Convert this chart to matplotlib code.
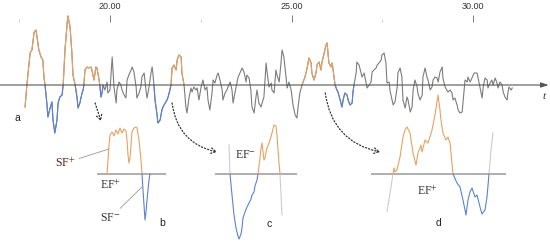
import numpy as np
import matplotlib
matplotlib.use("Agg")
import matplotlib.pyplot as plt

plt.rcParams['mathtext.fontset'] = 'stix'

# main trace (time, amplitude)
t = np.array([17.66, 17.71, 17.80, 17.85, 17.91, 17.96, 17.99, 18.04, 18.10, 18.15, 18.18, 18.21,
              18.26, 18.29, 18.35, 18.40, 18.43, 18.48, 18.54, 18.57, 18.62, 18.68, 18.71,
              18.76, 18.82, 18.84, 18.90, 18.95, 18.98, 19.04,
              19.09, 19.12, 19.17, 19.23, 19.26, 19.28,
              19.31, 19.37, 19.42, 19.48, 19.50, 19.56, 19.61, 19.64, 19.70, 19.72,
              19.75, 19.78, 19.81,
              19.86, 19.92, 19.94, 20.00, 20.06, 20.11, 20.17, 20.19, 20.25, 20.30, 20.33, 20.39,
              20.44, 20.47, 20.52, 20.58, 20.61, 20.66, 20.72, 20.74, 20.80, 20.85, 20.88, 20.94,
              20.99, 21.02, 21.07, 21.13, 21.16, 21.18, 21.21,
              21.24, 21.29, 21.32, 21.38, 21.43, 21.46, 21.52, 21.57, 21.60, 21.65, 21.68,
              21.71, 21.76, 21.82, 21.85, 21.90, 21.96, 21.98, 22.04,
              22.09, 22.12, 22.18, 22.23, 22.26, 22.31, 22.37, 22.40, 22.45, 22.51, 22.56, 22.62,
              22.67, 22.70, 22.75, 22.81, 22.84, 22.89, 22.95, 22.98, 23.03, 23.09, 23.11, 23.17,
              23.22, 23.25, 23.31, 23.36, 23.39, 23.44, 23.50, 23.53, 23.58, 23.64, 23.69, 23.75,
              23.77, 23.83, 23.88, 23.91, 23.97, 24.02, 24.05, 24.10, 24.16, 24.19, 24.24, 24.30,
              24.33, 24.38, 24.44, 24.46, 24.52, 24.57, 24.60, 24.66, 24.71, 24.74, 24.79, 24.85,
              24.88, 24.93, 24.99, 25.04, 25.10, 25.15, 25.18, 25.23, 25.29,
              25.32, 25.37, 25.43, 25.48, 25.54, 25.56, 25.62, 25.68, 25.70, 25.76, 25.81, 25.84,
              25.90, 25.95, 25.98, 26.03, 26.09, 26.12, 26.17, 26.20,
              26.25, 26.28, 26.34, 26.39, 26.42, 26.47, 26.53, 26.56, 26.61, 26.67, 26.69, 26.72,
              26.78, 26.80, 26.86, 26.91, 26.94, 27.00, 27.05, 27.08, 27.14, 27.19, 27.22, 27.27,
              27.33, 27.36, 27.41, 27.47, 27.49, 27.55, 27.60, 27.63, 27.69, 27.71, 27.77, 27.80,
              27.85, 27.91, 27.93, 27.99, 28.04, 28.07, 28.13, 28.18, 28.21, 28.27, 28.32, 28.35,
              28.40, 28.46, 28.48, 28.54, 28.60, 28.62, 28.68, 28.73, 28.76, 28.82, 28.87, 28.90,
              28.95, 29.01, 29.04, 29.09, 29.15, 29.17, 29.23, 29.28, 29.31, 29.37, 29.42, 29.45,
              29.50, 29.56, 29.59, 29.64, 29.70, 29.73, 29.78, 29.84, 29.86, 29.92, 29.97, 30.03,
              30.11, 30.14, 30.19, 30.25, 30.28, 30.33, 30.39, 30.41, 30.47, 30.52, 30.55, 30.61,
              30.66, 30.69, 30.74, 30.80, 30.83, 30.88, 30.94, 30.96, 30.99, 31.05, 31.08])
v = np.array([-2.2, 0.0, 3.2, 3.5, 5.3, 5.5, 4.8, 3.5, 2.8, 2.5, 0.8, 0.0,
              -1.8, -3.2, -2.3, -1.7, -3.5, -4.8, -3.5, -1.8, -1.2, -1.0, 0.0,
              3.5, 6.2, 6.9, 5.8, 3.2, 1.0, 0.0,
              -1.2, -2.3, -1.8, -0.8, -0.5, 0.0,
              1.5, 1.8, 1.7, 1.8, 1.5, 0.5, 1.8, 1.7, 0.5, 0.0,
              -1.2, -0.8, 0.0,
              -0.5, 0.3, -0.8, -0.5, 2.8, -0.2, -1.8, -0.5, 0.3, 0.0, -0.5, -1.0,
              -1.3, 0.5, 1.0, 1.5, 1.8, 1.3, -0.2, -1.3, -0.8, -0.2, 0.8, 1.2,
              -0.5, -1.3, -0.3, 1.2, 1.8, 1.2, 0.0,
              -1.5, -2.8, -3.8, -3.5, -2.5, -2.2, -1.8, -1.5, -1.2, -0.5, 0.0,
              1.7, 2.0, 1.5, 2.5, 3.0, 2.8, 1.2, 0.0,
              -2.2, -2.8, -1.2, -0.3, -0.7, -0.2, -0.5, -0.3, -1.5, -0.2, 0.5, -0.5,
              -0.2, -1.5, -2.5, -0.8, 0.5, 0.2, 1.0, 1.2, 0.5, -0.5, -1.5, -0.8,
              -0.5, -0.2, 0.3, -0.5, -1.8, -0.8, 0.3, 0.8, 1.2, 1.7, 1.3, 0.3,
              1.0, 0.7, -0.5, -2.2, -2.8, -1.2, -0.5, -1.8, -2.2, -1.8, -1.2, 2.2,
              1.2, -0.2, 0.2, -0.5, -0.8, 1.5, 1.0, 0.3, 2.2, 3.5, 2.8, 0.8,
              -0.3, 0.3, -0.5, -2.0, -3.0, -3.3, -2.2, -0.8, 0.0,
              0.3, 0.8, 1.7, 2.7, 2.2, 1.2, 0.5, 1.3, 2.0, 2.3, 1.5, 2.3,
              3.2, 4.0, 4.2, 2.2, 1.8, 2.2, 0.8, 0.0,
              -0.5, -0.7, -1.5, -2.2, -1.5, -0.8, -1.0, -1.5, -2.0, -1.8, -0.8, 0.0,
              1.2, 2.3, 2.0, 1.3, 0.8, 1.2, 0.3, -0.3, 0.0, 0.3, 1.3, 1.5,
              1.7, 2.0, 2.2, 2.5, 3.0, 3.2, 2.2, 0.2, 0.3, -0.5, -1.5, -2.0,
              -1.7, -0.2, 1.2, 1.7, 0.8, -1.5, -2.3, -1.2, -1.5, -2.7, -2.2, -0.5,
              0.5, -0.2, -0.8, -1.5, -1.0, 0.8, 1.7, 0.8, 0.5, -0.5, -0.2, 0.5,
              0.8, 0.7, 0.3, 1.3, 1.8, 0.7, -0.2, -0.5, -0.7, -0.5, -0.8, -1.5,
              -1.3, -2.0, -2.5, -2.8, -2.7, -1.5, 0.5, 0.3, 0.8, 0.3, 0.7, 1.2,
              1.2, 0.7, -0.2, -1.3, -0.2, 0.7, 0.5, -0.3, 0.2, 0.5, 0.0, 0.7,
              0.2, -0.3, 0.3, 0.0, -0.7, -1.2, -1.5, -0.8, -0.2, -0.5, -0.3])

# highlighted stretches of the trace
pos_spans = [(17.66, 18.21), (18.71, 19.04), (19.28, 19.72), (21.68, 22.04), (25.29, 26.20)]
neg_spans = [(18.21, 18.71), (19.04, 19.28), (19.72, 19.81), (21.21, 21.68), (26.20, 26.72)]

tick_major = [20, 25, 30]
tick_minor = [17.5, 22.5, 27.5]
tick_labels = ['20.00', '25.00', '30.00']

# zoomed pieces (local x, amplitude)
b_pos_x = [1.0, 1.1, 1.2, 1.3, 1.5, 1.7, 1.9, 2.1, 2.3, 2.5, 2.7, 2.9, 3.0, 3.1, 3.2, 3.3,
           3.4, 3.5, 3.7, 3.9, 4.0, 4.2, 4.4, 4.5]
b_pos_v = [0.0, 1.4, 2.9, 3.9, 4.2, 3.8, 4.4, 4.0, 4.6, 4.1, 4.5, 4.3, 3.4, 1.9, 1.1, 1.6,
           2.9, 4.2, 4.6, 4.7, 4.6, 3.4, 1.4, 0.0]
b_neg_x = [4.5, 4.6, 4.7, 4.8, 4.9, 5.0, 5.1, 5.2, 5.3]
b_neg_v = [0.0, -1.6, -3.1, -4.6, -3.8, -2.6, -1.6, -0.6, 0.0]
b_width = 6.9

c_lead_x = [1.4, 1.5]
c_lead_v = [2.9, 0.0]
c_neg_x = [1.5, 1.7, 1.9, 2.1, 2.3, 2.4, 2.6, 2.7, 2.8, 3.0, 3.2, 3.4, 3.6, 3.7, 3.9, 4.0, 4.2, 4.3]
c_neg_v = [0.0, -2.1, -4.1, -5.4, -6.2, -6.5, -6.0, -5.4, -4.4, -3.8, -3.3, -2.9, -2.5, -2.1,
           -1.8, -1.2, -0.6, 0.0]
c_pos_x = [4.3, 4.5, 4.6, 4.7, 4.8, 4.9, 5.0, 5.1, 5.2, 5.4, 5.5, 5.7, 5.9, 6.1, 6.2, 6.3, 6.4, 6.5]
c_pos_v = [0.0, 1.6, 2.6, 3.1, 2.2, 1.4, 1.6, 2.2, 2.6, 3.1, 3.4, 4.1, 4.9, 4.8, 3.9, 2.4, 1.1, 0.0]
c_tail_x = [6.5, 6.6, 6.7]
c_tail_v = [0.0, -2.1, -4.1]
c_width = 8.2

d_lead_x = [1.6, 2.2]
d_lead_v = [-3.8, 0.0]
d_pos_x = [2.2, 2.3, 2.4, 2.6, 2.9, 3.2, 3.4, 3.6, 3.9, 4.2, 4.5, 4.7, 5.0, 5.1, 5.4, 5.7,
           6.1, 6.4, 6.7, 6.9, 7.0, 7.2, 7.5, 7.7, 7.9, 8.2]
d_pos_v = [0.0, 0.6, 0.2, 0.4, 1.7, 3.7, 4.4, 4.7, 4.1, 2.1, 0.9, 2.1, 2.9, 2.2, 3.4, 3.1,
           4.4, 5.9, 7.9, 6.4, 5.4, 4.1, 3.4, 3.7, 3.1, 0.0]
d_neg_x = [8.2, 8.6, 8.9, 9.2, 9.5, 9.7, 9.9, 10.1, 10.4, 10.6, 10.9, 11.1, 11.4, 11.6, 11.8]
d_neg_v = [0.0, -0.9, -1.3, -2.6, -4.1, -2.6, -1.8, -1.4, -2.3, -2.1, -3.3, -4.0, -3.6, -2.3, 0.0]
d_tail_x = [11.8, 12.0, 12.2]
d_tail_v = [0.0, 2.4, 4.1]
d_width = 13.5

ORANGE = '#e8a262'
BLUE = '#5b83d3'
GRAY = '#7c7c7c'
LIGHT = '#cccccc'
W, H = 550, 246

fig = plt.figure(figsize=(W / 100, H / 100), dpi=100)
ax = fig.add_axes([0, 0, 1, 1])
ax.set_xlim(16.97, 32.12)
ax.set_ylim(-16.1, 8.5)
ax.axis('off')

# time axis with arrow
ax.annotate('', xy=(32.08, 0), xytext=(16.97, 0),
            arrowprops=dict(arrowstyle='-|>,head_length=0.45,head_width=0.15',
                            color='#555555', lw=0.8, shrinkA=0, shrinkB=0))
ax.text(31.97, -1.2, 't', family='Liberation Serif', style='italic', fontsize=8,
        ha='center', va='center', color='#333333')

ax.plot(t, v, color=GRAY, lw=0.8)
for a, b in pos_spans:
    m = (t >= a - 1e-6) & (t <= b + 1e-6)
    ax.plot(t[m], v[m], color=ORANGE, lw=0.8)
for a, b in neg_spans:
    m = (t >= a - 1e-6) & (t <= b + 1e-6)
    ax.plot(t[m], v[m], color=BLUE, lw=0.8)

ax.text(17.44, -3.3, 'a', fontsize=7.5, family='Liberation Sans', ha='center', va='center',
        color='#222222')

# dotted arrows to the zoomed pieces
arr = dict(arrowstyle='->,head_length=0.35,head_width=0.2', linestyle=(0, (1, 1.6)),
           color='#333333', lw=0.9, shrinkA=0, shrinkB=0)
ax.annotate('', xy=(19.75, -3.6), xytext=(19.59, -1.8), arrowprops=arr)
ax.annotate('', xy=(22.95, -6.7), xytext=(21.71, -1.8),
            arrowprops=dict(arr, connectionstyle='arc3,rad=0.35'))
ax.annotate('', xy=(27.44, -6.7), xytext=(25.93, -0.8),
            arrowprops=dict(arr, connectionstyle='arc3,rad=0.35'))

# top tick ruler
tax = fig.add_axes([0, 1 - 22 / H, 1, 1e-4])
tax.set_xlim(ax.get_xlim())
tax.xaxis.tick_top()
tax.set_xticks(tick_major)
tax.set_xticklabels(tick_labels)
tax.set_xticks(tick_minor, minor=True)
tax.set_yticks([])
tax.tick_params(axis='x', which='major', length=5, width=0.6, color='#666666',
                labelsize=6.5, pad=3, labelcolor='#333333')
tax.tick_params(axis='x', which='minor', length=2, width=0.5, color='#bbbbbb')
for s in tax.spines.values():
    s.set_visible(False)
tax.patch.set_visible(False)
for lab in tax.get_xticklabels():
    lab.set_family('Liberation Sans')


def px_axes(x0, x1, y0, y1):
    a = fig.add_axes([x0 / W, 1 - y1 / H, (x1 - x0) / W, (y1 - y0) / H])
    a.axis('off')
    a.patch.set_visible(False)
    a.set_ylim(-7.1, 8.9)
    return a


serif = dict(family='Liberation Serif', fontsize=8.5, color='#333333', va='center')
sans = dict(family='Liberation Sans', fontsize=7.5, color='#222222', ha='center', va='center')

# b
axb = px_axes(40, 175, 85, 245)
axb.set_xlim(-5.7, 7.8)
axb.hlines(0, 0, b_width, color='#a8a8a8', lw=1.3)
axb.plot(b_pos_x, b_pos_v, color=ORANGE, lw=0.8)
axb.plot(b_neg_x, b_neg_v, color=BLUE, lw=0.8)
axb.annotate('SF$^{+}$', xy=(1.2, 2.5), xytext=(-2.2, 1.1), ha='right',
             arrowprops=dict(arrowstyle='-', color='#999999', lw=0.6, shrinkA=1, shrinkB=0),
             **dict(serif, color='#5a1f1f'))
axb.annotate('SF$^{-}$', xy=(4.5, -1.3), xytext=(0.3, -4.4), ha='left',
             arrowprops=dict(arrowstyle='-', color='#999999', lw=0.6, shrinkA=1, shrinkB=0),
             **serif)
axb.text(0.3, -1.1, 'EF$^{+}$', ha='left', **serif)
axb.text(6.5, -4.9, 'b', **sans)

# c
axc = px_axes(205, 300, 85, 245)
axc.set_xlim(-1.0, 8.5)
axc.hlines(0, 0, c_width, color='#a8a8a8', lw=1.3)
axc.plot(c_lead_x, c_lead_v, color=LIGHT, lw=0.8)
axc.plot(c_tail_x, c_tail_v, color=LIGHT, lw=0.8)
axc.plot(c_neg_x, c_neg_v, color=BLUE, lw=0.8)
axc.plot(c_pos_x, c_pos_v, color=ORANGE, lw=0.8)
axc.text(2.0, 1.9, 'EF$^{-}$', ha='left', **serif)
axc.text(5.4, -5.0, 'c', **sans)

# d
axd = px_axes(365, 510, 85, 245)
axd.set_xlim(-0.6, 13.9)
axd.hlines(0, 0, d_width, color='#a8a8a8', lw=1.3)
axd.plot(d_lead_x, d_lead_v, color=LIGHT, lw=0.8)
axd.plot(d_tail_x, d_tail_v, color=LIGHT, lw=0.8)
axd.plot(d_pos_x, d_pos_v, color=ORANGE, lw=0.8)
axd.plot(d_neg_x, d_neg_v, color=BLUE, lw=0.8)
axd.text(4.6, -1.7, 'EF$^{+}$', ha='left', **serif)
axd.text(6.8, -4.9, 'd', **sans)

fig.savefig('out.png', dpi=100)
